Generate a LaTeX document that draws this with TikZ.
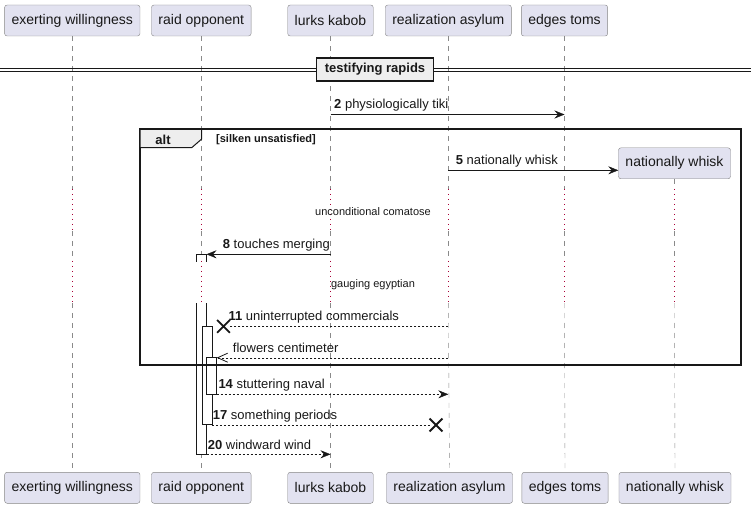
\documentclass[tikz,border=0pt]{standalone}
\usepackage{fontspec}
\setmainfont{Liberation Sans}
\usepackage{tikz}
\usetikzlibrary{arrows.meta, positioning, calc, shapes.misc}
\definecolor{boxfill}{HTML}{E2E2F0}
\definecolor{boxline}{HTML}{858585}
\definecolor{lifegray}{HTML}{8A8A8A}
\definecolor{delayred}{HTML}{A80036}
\definecolor{tabfill}{HTML}{EEEEEE}
\definecolor{ink}{HTML}{181818}
\tikzstyle{actor} = [rectangle, rounded corners=2.5pt, draw=boxline, fill=boxfill, minimum height=31pt, inner xsep=7pt, text=ink, font=\fontsize{14}{16}\selectfont]
\tikzstyle{lifeline} = [draw=lifegray, dash pattern=on 5pt off 5pt]
\tikzstyle{delayline} = [draw=delayred, line width=1.1pt, dash pattern=on 1.3pt off 3.7pt]
\tikzstyle{bar} = [rectangle, draw=ink, fill=white, minimum width=10pt, inner sep=0pt]
\tikzstyle{msg} = [draw=ink, -{Stealth[length=10pt,width=8pt,inset=3.5pt]}]
\tikzstyle{reply} = [msg, dash pattern=on 2pt off 2pt]
\tikzstyle{openreply} = [draw=ink, dash pattern=on 2pt off 2pt, -{Straight Barb[length=10pt,width=9pt,line width=0.8pt]}]
\tikzstyle{lost} = [draw=ink, cross out, line width=1.8pt, minimum size=11pt, inner sep=0pt]
\tikzstyle{lbl} = [anchor=base west, inner sep=0pt, text=ink, font=\fontsize{13}{15}\selectfont]
\tikzstyle{note} = [inner sep=0pt, text=ink, font=\fontsize{11}{13}\selectfont]

\begin{document}
\begin{tikzpicture}[x=1pt, y=-1pt]
\useasboundingbox (0,0) rectangle (756,508);

% participants
\node [actor] (ew) at (72.3,20.5) {exerting willingness};
\node [actor] (ro) at (201.3,20.5) {raid opponent};
\node [actor] (lk) at (330.5,20.5) {lurks kabob};
\node [actor] (ra) at (448.3,20.5) {realization asylum};
\node [actor] (et) at (564.5,20.5) {edges toms};
\node [actor] (nw) at (674.5,163.3) {nationally whisk};
\node [actor] (ew2) at (72.3,487.8) {exerting willingness};
\node [actor] (ro2) at (201.3,487.8) {raid opponent};
\node [actor] (lk2) at (330.5,487.8) {lurks kabob};
\node [actor] (ra2) at (449.5,487.8) {realization asylum};
\node [actor] (et2) at (565,487.8) {edges toms};
\node [actor] (nw2) at (675,487.8) {nationally whisk};

% lifelines
\foreach \p in {ew,ro,lk,ra,et,nw} {
  \draw [lifeline] (\p.south) -- (\p |- 0,189);
  \draw [lifeline] (\p |- 0,231) -- (\p |- 0,261);
  \draw [lifeline] (\p |- 0,303) -- (\p2.north);
}

% activations
\node [bar, minimum height=200.3pt] (act1) at (201.3,354.2) {};
\fill [white] (195.6,262) rectangle (207,303);
\node [bar, minimum height=98pt] (act2) at (206.7,375) {};
\node [bar, minimum height=36.8pt] (act3) at (211.5,375.9) {};

% delays
\foreach \p in {ew,ro,lk,ra,et,nw} {
  \draw [delayline] (\p |- 0,189) -- (\p |- 0,231);
  \draw [delayline] (\p |- 0,261) -- (\p |- 0,303);
}
\node [note] (d1) at (373,212) {unconditional comatose};
\node [note] (d2) at (373,284.3) {gauging egyptian};

% divider
\draw [ink] (0,68.3) -- (751,68.3) (0,71) -- (751,71);
\node [draw=ink, fill=tabfill, line width=1.6pt, minimum width=117pt, minimum height=23pt, inner sep=0pt, text=ink, font=\fontsize{13}{15}\selectfont\bfseries] (sect) at (375,69.4) {testifying rapids};

% alt fragment
\draw [ink, line width=1.6pt] (140,129.3) rectangle (740.7,364.7);
\draw [ink, fill=tabfill, line width=1pt] (140,129.3) -- (201.7,129.3) -- (201.7,139) -- (191.7,147.7) -- (140,147.7) -- cycle;
\node [text=ink, inner sep=0pt, font=\fontsize{13}{15}\selectfont\bfseries] (alttag) at (163,139.5) {alt};
\node [note, anchor=west, font=\fontsize{11}{13}\selectfont\bfseries] (guard) at (216,139.5) {[silken unsatisfied]};

% messages
\draw [msg] (lk |- 0,114.5) -- (et |- 0,114.5);
\node [lbl] (m2) at (334,108.8) {\textbf{2} physiologically tiki};

\draw [msg] (ra |- 0,170.3) -- (nw.west |- 0,170.3);
\node [lbl] (m5) at (455.7,164.6) {\textbf{5} nationally whisk};

\draw [msg] (lk |- 0,254.3) -- (act1.east |- 0,254.3);
\node [lbl] (m8) at (222.7,248.8) {\textbf{8} touches merging};

\node [lost] (x11) at (223.5,326.3) {};
\draw [reply, -] (ra |- x11) -- (x11.east);
\node [lbl] (m11) at (228.3,320.8) {\textbf{11} uninterrupted commercials};

\draw [openreply] (ra |- 0,357.7) -- (act3.east |- 0,357.7);
\node [lbl] (m12) at (232.7,352.2) {flowers centimeter};

\draw [reply] (act3.east |- 0,394.3) -- (ra |- 0,394.3);
\node [lbl] (m14) at (218.3,388.8) {\textbf{14} stuttering naval};

\node [lost] (x17) at (436,425) {};
\draw [reply, -] (act2.east |- x17) -- (x17.west);
\node [lbl] (m17) at (212.7,419) {\textbf{17} something periods};

\draw [reply] (act1.east |- 0,454.3) -- (lk |- 0,454.3);
\node [lbl] (m20) at (207.7,449) {\textbf{20} windward wind};
\end{tikzpicture}
\end{document}
